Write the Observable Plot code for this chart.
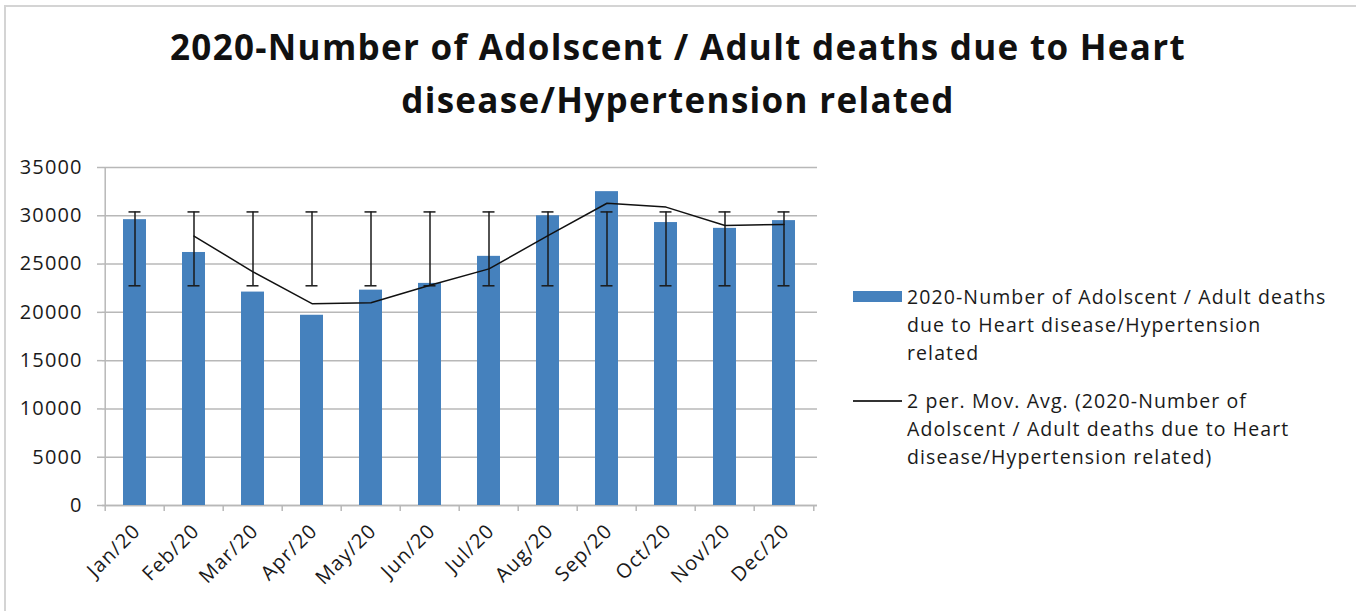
<!DOCTYPE html>
<html>
<head>
<meta charset="utf-8">
<script src="https://cdn.jsdelivr.net/npm/d3@7"></script>
<script src="https://cdn.jsdelivr.net/npm/@observablehq/plot@0.6"></script>
<style>
  html, body { margin: 0; padding: 0; background: #fff; }
  #page { position: relative; width: 1356px; height: 611px; overflow: hidden; font-family: "Open Sans", sans-serif; color: #1a1a1a; }
  #frame { position: absolute; left: 4px; top: 5px; right: 0; bottom: 0; border-left: 2px solid #d4d4d4; border-top: 2px solid #d4d4d4; }
  #title { position: absolute; left: 0; top: 20px; width: 1356px; text-align: center; font-weight: bold; font-size: 35px; letter-spacing: 1.3px; line-height: 53px; color: #111; }
  #chart { position: absolute; left: 0; top: 140px; }
  #legend { position: absolute; left: 853px; top: 283px; font-size: 19.5px; letter-spacing: 1.1px; line-height: 28px; color: #1a1a1a; }
  .entry { position: relative; padding-left: 54px; white-space: nowrap; }
  .sw-bar { position: absolute; left: 0; top: 8px; width: 49px; height: 11px; background: #4581bd; }
  .sw-line { position: absolute; left: 0; top: 13px; width: 49px; height: 2px; background: #333; }
</style>
</head>
<body>
<div id="page">
  <div id="frame"></div>
  <div id="title">2020-Number of Adolscent / Adult deaths due to Heart<br>disease/Hypertension related</div>
  <div id="chart"></div>
  <div id="legend">
    <div class="entry"><span class="sw-bar"></span>2020-Number of Adolscent / Adult deaths<br>due to Heart disease/Hypertension<br>related</div>
    <div class="entry" style="margin-top:20px"><span class="sw-line"></span>2 per. Mov. Avg. (2020-Number of<br>Adolscent / Adult deaths due to Heart<br>disease/Hypertension related)</div>
  </div>
</div>
<script>
const months = ["Jan/20","Feb/20","Mar/20","Apr/20","May/20","Jun/20","Jul/20","Aug/20","Sep/20","Oct/20","Nov/20","Dec/20"];
const deaths = [29600, 26200, 22100, 19700, 22300, 23000, 25800, 30000, 32500, 29300, 28700, 29500];
const movAvg = [null, 27900, 24200, 20900, 21000, 22800, 24500, 27950, 31300, 30900, 29000, 29100];
const errLow = [22750, 22750, 22750, 22750, 22750, 22750, 22750, 22750, 22750, 22750, 22750, 22750];
const errHigh = [30400, 30400, 30400, 30400, 30400, 30400, 30400, 30400, 30400, 30400, 30400, 30400];
const yTicks = [0, 5000, 10000, 15000, 20000, 25000, 30000, 35000];

const data = months.map((m, i) => ({month: m, deaths: deaths[i], avg: movAvg[i], lo: errLow[i], hi: errHigh[i]}));
const lineData = data.filter(d => d.avg != null);

const W = 837, ML = 102, MR = 20;
const step = (W - ML - MR) / months.length;
const grey = "#b8b8b8";

const chart = Plot.plot({
  width: W, height: 465,
  marginLeft: ML, marginRight: MR, marginTop: 27, marginBottom: 100,
  style: {fontFamily: "Open Sans, sans-serif", fontSize: "20px", letterSpacing: "1.1px", color: "#1a1a1a", background: "transparent", overflow: "visible"},
  x: {domain: months, paddingInner: 0.61, paddingOuter: 0.305, label: null},
  y: {domain: [0, 35000], label: null},
  marks: [
    Plot.gridY(yTicks, {stroke: grey, strokeOpacity: 1, strokeWidth: 1.5}),
    Plot.ruleX([months[0]], {dx: -step / 2, stroke: grey, strokeWidth: 1.5}),
    Plot.ruleY([0], {stroke: grey, strokeWidth: 1.5}),
    Plot.axisY(yTicks, {tickSize: 5, tickPadding: 15, stroke: grey, strokeWidth: 1.5, tickFormat: d => String(d), fill: "#1a1a1a"}),
    Plot.barY(data, {x: "month", y: "deaths", fill: "#4581bd"}),
    Plot.ruleX(data, {x: "month", y1: "lo", y2: "hi", stroke: "#1a1a1a", strokeWidth: 1.5}),
    Plot.tickY(data, {x: "month", y: "lo", insetLeft: 5.5, insetRight: 5.5, stroke: "#1a1a1a", strokeWidth: 1.5}),
    Plot.tickY(data, {x: "month", y: "hi", insetLeft: 5.5, insetRight: 5.5, stroke: "#1a1a1a", strokeWidth: 1.5}),
    Plot.line(lineData, {x: "month", y: "avg", stroke: "#111", strokeWidth: 1.5}),
    Plot.axisX(months, {tickSize: 6, tickFormat: () => "", dx: -step / 2, stroke: grey, strokeWidth: 1.5}),
    Plot.axisX([months[months.length - 1]], {tickSize: 6, tickFormat: () => "", dx: step / 2, stroke: grey, strokeWidth: 1.5}),
    Plot.axisX(months, {tickSize: 0, tickPadding: 22, tickRotate: -45, dx: 2, fill: "#1a1a1a"})
  ]
});
document.getElementById("chart").appendChild(chart);
</script>
</body>
</html>
